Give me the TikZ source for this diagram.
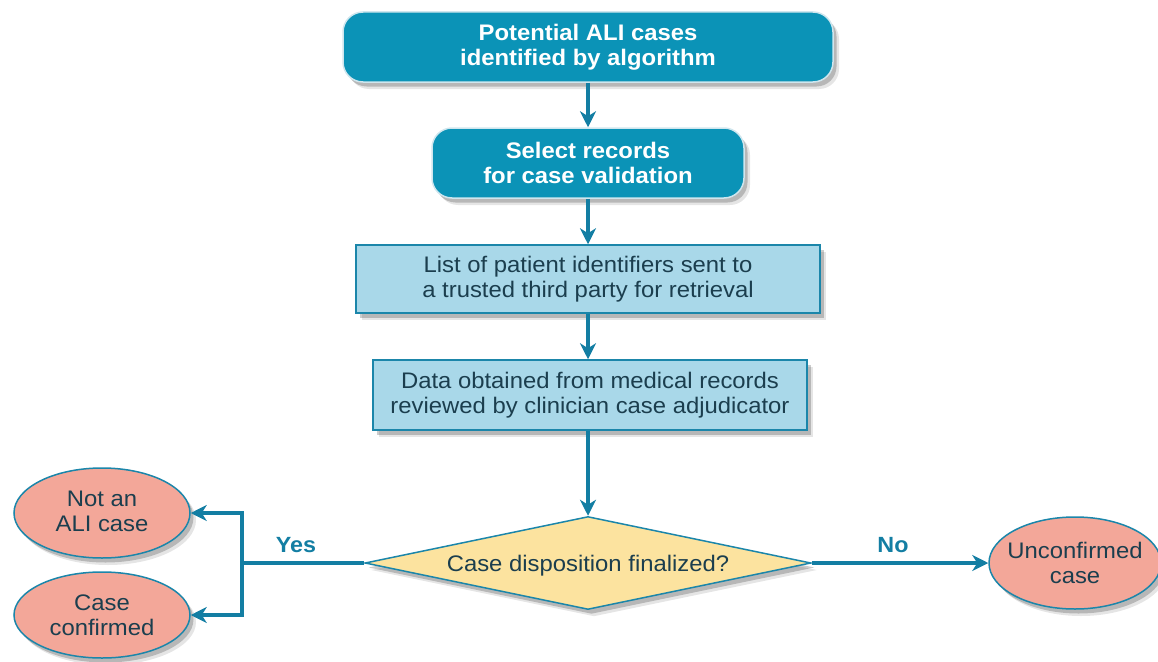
\documentclass[tikz,border=0pt]{standalone}
\usepackage{fontspec}
\setmainfont[FakeStretch=1.06]{Liberation Sans}
\usetikzlibrary{shapes.geometric,arrows.meta,shadows}
\definecolor{tealbox}{HTML}{0B93B7}
\definecolor{tealedge}{HTML}{CFE6EE}
\definecolor{lblue}{HTML}{A9D8E9}
\definecolor{bordr}{HTML}{1B86AA}
\definecolor{arrowc}{HTML}{137EA3}
\definecolor{txtc}{HTML}{1B3E4E}
\definecolor{ylw}{HTML}{FCE39F}
\definecolor{salm}{HTML}{F3A799}
\begin{document}
\begin{tikzpicture}[x=1pt,y=-1pt,
  shad/.style={drop shadow={shadow xshift=6pt,shadow yshift=-7pt,fill=black,opacity=0.10},
               drop shadow={shadow xshift=3.5pt,shadow yshift=-4.5pt,fill=black,opacity=0.20}},
  topbox/.style={shad,rectangle,rounded corners=20pt,fill=tealbox,draw=tealedge,line width=1.5pt,
    inner sep=0pt,align=center,text=white,font=\fontsize{22.5}{25}\selectfont\bfseries},
  lbox/.style={shad,rectangle,fill=lblue,draw=bordr,line width=1.5pt,
    inner sep=0pt,align=center,text=txtc,font=\fontsize{22.5}{25}\selectfont},
  dia/.style={shad,diamond,fill=ylw,draw=bordr,line width=1.5pt,inner sep=0pt},
  ell/.style={shad,ellipse,fill=salm,draw=bordr,line width=1.5pt,inner sep=0pt},
  txt/.style={align=center,text=txtc,inner sep=0pt,font=\fontsize{22.5}{25}\selectfont},
  lab/.style={text=arrowc,inner sep=0pt,font=\fontsize{22}{25}\selectfont\bfseries},
  ln/.style={draw=arrowc,line width=3.5pt},
  arr/.style={ln,-{Stealth[length=16pt,width=16pt,inset=5pt]}}
]
\useasboundingbox (0,0) rectangle (1158,661);

\node[topbox,minimum width=490pt,minimum height=70pt] (n1) at (588,47) {Potential ALI cases\\identified by algorithm};
\node[topbox,minimum width=312pt,minimum height=70pt] (n2) at (588,163) {Select records\\for case validation};
\node[lbox,minimum width=464pt,minimum height=68pt] (n3) at (588,279) {List of patient identifiers sent to\\a trusted third party for retrieval};
\node[lbox,minimum width=434pt,minimum height=70pt] (n4) at (590,395) {Data obtained from medical records\\reviewed by clinician case adjudicator};

\node[dia,minimum width=446pt,minimum height=93pt] (d) at (588,563) {};
\node[txt] (dt) at ([yshift=-3pt]d.center) {Case disposition finalized?};

\node[ell,minimum width=176pt,minimum height=90pt] (e1) at (102,513) {};
\node[txt] (e1t) at ([yshift=2pt]e1.center) {Not an\\ALI case};
\node[ell,minimum width=176pt,minimum height=86pt] (e2) at (102,615) {};
\node[txt] (e2t) at (e2.center) {Case\\confirmed};
\node[ell,minimum width=172pt,minimum height=92pt] (e3) at (1075,563) {};
\node[txt] (e3t) at (e3.center) {Unconfirmed\\case};

\draw[arr] (n1.south) -- (n1.south |- n2.north);
\draw[arr] (n2.south) -- (n2.south |- n3.north);
\draw[arr] (n3.south) -- (n3.south |- n4.north);
\draw[arr] (n4.south -| d.north) -- (d.north);

\coordinate (j) at (242,563);
\draw[ln] (d.west) -- (j);
\draw[arr] ([yshift=-1.75pt]j) |- (e1.east);
\draw[arr] ([yshift=1.75pt]j) |- (e2.east);
\draw[arr] (d.east) -- (e3.west);

\node[lab] (yes) at (296,545) {Yes};
\node[lab] (no) at (893,545) {No};
\end{tikzpicture}
\end{document}
